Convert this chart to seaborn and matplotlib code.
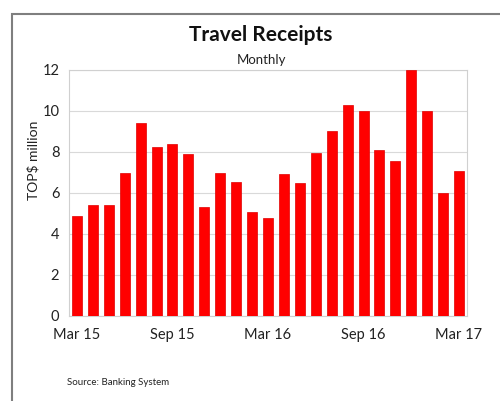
import matplotlib
matplotlib.use("Agg")
import matplotlib.pyplot as plt
import matplotlib.patches as mpatches
import seaborn as sns
import pandas as pd
from matplotlib.ticker import FixedLocator

months = ["Mar 15", "Apr 15", "May 15", "Jun 15", "Jul 15", "Aug 15", "Sep 15", "Oct 15",
          "Nov 15", "Dec 15", "Jan 16", "Feb 16", "Mar 16", "Apr 16", "May 16", "Jun 16",
          "Jul 16", "Aug 16", "Sep 16", "Oct 16", "Nov 16", "Dec 16", "Jan 17", "Feb 17", "Mar 17"]
receipts = [4.9, 5.4, 5.4, 6.97, 9.4, 8.25, 8.4, 7.9, 5.33, 6.96, 6.54, 5.07, 4.77,
            6.91, 6.5, 7.96, 9.03, 10.29, 10.01, 8.1, 7.58, 12.0, 10.0, 6.0, 7.09]
tick_labels = ["Mar 15", "Sep 15", "Mar 16", "Sep 16", "Mar 17"]
y_ticks = [0, 2, 4, 6, 8, 10, 12]

sns.set_theme(style="white")
plt.rcParams['font.family'] = ['Lato', 'DejaVu Sans']

df = pd.DataFrame({"month": months, "value": receipts})

fig = plt.figure(figsize=(5, 4.01), dpi=100)
ax = fig.add_axes([0.138, 0.212, 0.796, 0.6135])

sns.barplot(data=df, x="month", y="value", color="#ff0000", saturation=1,
            width=0.63, edgecolor="#e00000", linewidth=0.5, ax=ax, zorder=3)

ax.set_ylim(0, 12)
ax.set_xlim(-0.5, len(months) - 0.5)
ax.set_yticks(y_ticks)
ax.set_yticklabels([str(v) for v in y_ticks], fontsize=10.5, color="#222222")
pos = [months.index(m) for m in tick_labels]
ax.set_xticks(pos)
ax.set_xticklabels(tick_labels, fontsize=10.5, color="#222222")
ax.xaxis.set_minor_locator(FixedLocator([i - 0.5 for i in range(0, len(months), 3)]))
ax.tick_params(axis="x", which="major", length=0, pad=9)
ax.tick_params(axis="x", which="minor", length=4, color="#bfbfbf", width=0.8)
ax.tick_params(axis="y", length=3, color="#d0d0d0", pad=4)
ax.yaxis.grid(True, color="#d9d9d9", linewidth=0.8, zorder=0)
ax.set_axisbelow(True)
for s in ax.spines.values():
    s.set_color("#d0d0d0")
    s.set_linewidth(0.8)
ax.set_xlabel("")
ax.set_ylabel("")

fig.text(0.066, 0.60, "TOP$ million", rotation=90, ha="center", va="center",
         fontsize=10, color="#222222")
fig.text(0.522, 0.912, "Travel Receipts", ha="center", va="center",
         fontsize=15, fontweight="bold", color="#111111")
fig.text(0.522, 0.851, "Monthly", ha="center", va="center", fontsize=9.5, color="#222222")
fig.text(0.134, 0.045, "Source: Banking System", ha="left", va="center",
         fontsize=7, color="#222222")

frame = mpatches.Rectangle((0.024, -0.1), 1.2, 1.065, transform=fig.transFigure,
                           fill=False, edgecolor="#7f7f7f", linewidth=1.5, clip_on=False)
fig.patches.append(frame)

fig.savefig("out.png", dpi=100)
